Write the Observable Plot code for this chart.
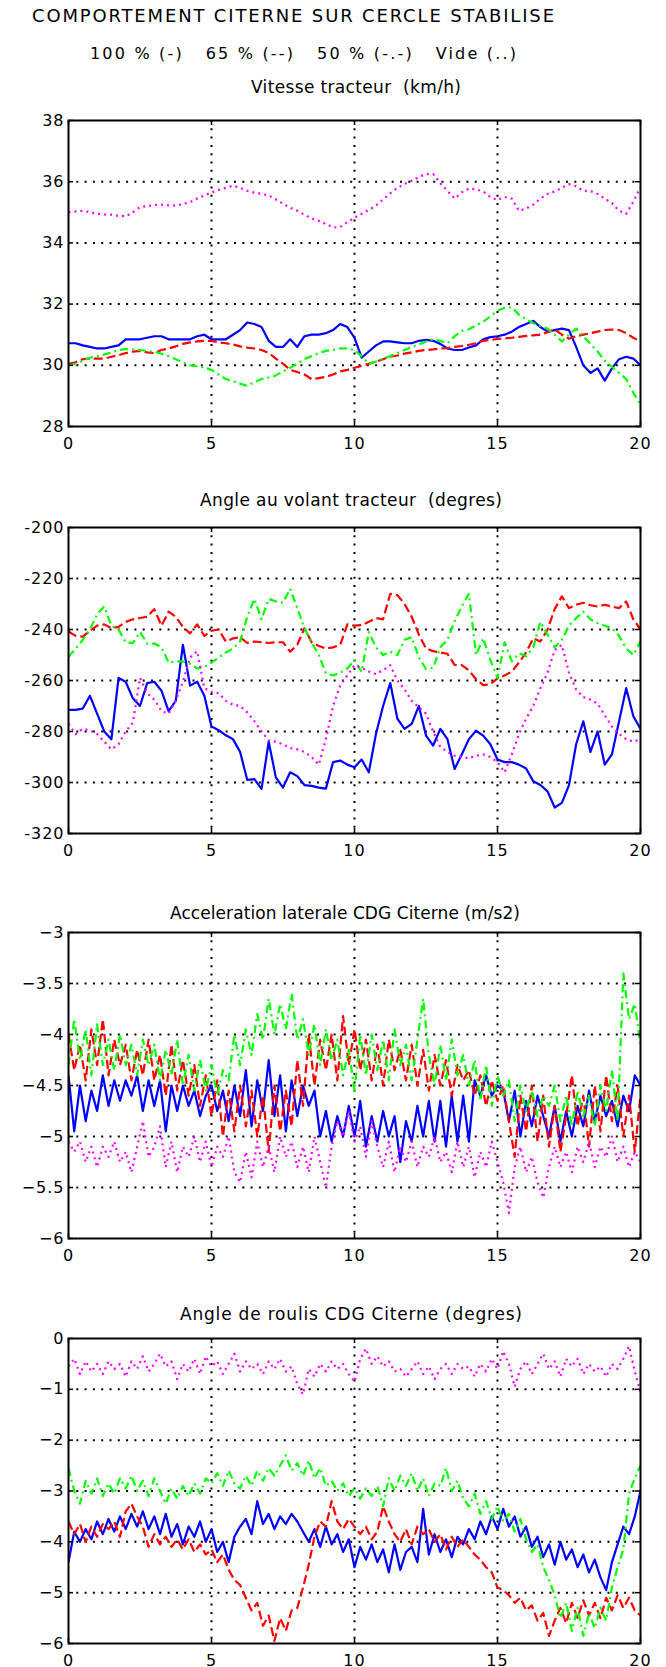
<!DOCTYPE html>
<html><head><meta charset="utf-8">
<script src="https://cdn.jsdelivr.net/npm/d3@7"></script>
<script src="https://cdn.jsdelivr.net/npm/@observablehq/plot@0.6"></script>
<style>
html,body{margin:0;padding:0;background:#fff;}
#page{position:relative;width:666px;height:1667px;overflow:hidden;background:#fff;font-family:"DejaVu Sans",sans-serif;color:#000;}
.t{position:absolute;white-space:pre;line-height:1;}
.panel{position:absolute;left:0;}
</style></head>
<body><div id="page"></div>
<script>
// ---------------- texts ----------------
const mainTitle = "COMPORTEMENT CITERNE SUR CERCLE STABILISE";
const legendText = "100 % (-)   65 % (--)   50 % (-.-)   Vide (..)";
const panelTitles = [
  "Vitesse tracteur  (km/h)",
  "Angle au volant tracteur  (degres)",
  "Acceleration laterale CDG Citerne (m/s2)",
  "Angle de roulis CDG Citerne (degres)"
];
const seriesNames = ["100 %", "65 %", "50 %", "Vide"];
const timeDomain = [0, 20];
const timeTicks = [0, 5, 10, 15, 20];

// ---------------- y axes ----------------
const vitesseTicks = [28, 30, 32, 34, 36, 38];
const volantTicks = [-320, -300, -280, -260, -240, -220, -200];
const accelTicks = [-6, -5.5, -5, -4.5, -4, -3.5, -3];
const roulisTicks = [-6, -5, -4, -3, -2, -1, 0];

// ---------------- Panel 1 : Vitesse tracteur (km/h), samples every 0.25 s ----------------
const vitesse100 = [
30.72,30.72,30.65,30.6, 30.55,30.55,30.6,30.65, 30.85,30.85,30.85,30.9, 30.95,30.95,30.85,30.85,
30.85,30.85,30.95,31.0, 30.85,30.85,30.85,31.0, 31.15,31.4,31.35,31.25, 30.8,30.6,30.6,30.85,
30.6,30.95,31.0,31.0, 31.05,31.15,31.35,31.25, 30.9,30.25,30.45,30.65, 30.78,30.78,30.75,30.72,
30.72,30.8,30.83,30.8, 30.7,30.55,30.5,30.5, 30.58,30.65,30.85,30.92, 30.95,31.0,31.1,31.25,
31.35,31.45,31.25,31.1, 31.15,31.2,31.15,30.6, 30.0,29.75,29.9,29.5, 29.9,30.2,30.28,30.22, 30.0];
const vitesse65 = [
30.05,30.1,30.2,30.22, 30.22,30.22,30.28,30.33, 30.4,30.45,30.47,30.42, 30.4,30.5,30.55,30.62,
30.7,30.75,30.78,30.8, 30.8,30.75,30.72,30.68, 30.62,30.58,30.55,30.5, 30.4,30.22,30.05,29.85,
29.78,29.7,29.55,29.58, 29.62,29.7,29.8,29.85, 29.92,29.98,30.05,30.12, 30.2,30.28,30.32,30.38,
30.42,30.47,30.5,30.52, 30.55,30.56,30.6,30.63, 30.67,30.72,30.8,30.83, 30.86,30.88,30.9,30.93,
30.96,30.98,31.0,31.08, 31.17,31.0,30.87,30.95, 31.0,31.05,31.1,31.15, 31.17,31.15,31.05,30.9, 30.78];
const vitesse50 = [
30.0,30.05,30.15,30.25, 30.3,30.35,30.42,30.5, 30.53,30.52,30.5,30.47, 30.44,30.38,30.3,30.2,
30.1,30.0,29.97,29.93, 29.85,29.7,29.55,29.48, 29.4,29.33,29.45,29.55, 29.6,29.67,29.8,29.92,
30.05,30.2,30.3,30.4, 30.47,30.5,30.55,30.55, 30.5,30.3,30.05,30.12, 30.22,30.3,30.4,30.5,
30.6,30.68,30.78,30.85, 30.8,30.72,30.95,31.12, 31.18,31.3,31.42,31.6, 31.78,31.88,31.9,31.65,
31.5,31.38,31.28,31.2, 31.0,30.78,31.0,31.2, 30.95,30.7,30.45,30.15, 29.95,29.75,29.55,29.1, 28.72];
const vitesseVide = [
35.0,35.03,35.05,35.0, 34.95,34.93,34.92,34.88, 34.87,35.0,35.17,35.2, 35.24,35.25,35.23,35.22,
35.27,35.33,35.45,35.55, 35.65,35.73,35.8,35.87, 35.8,35.7,35.64,35.6, 35.55,35.42,35.28,35.15,
35.05,34.92,34.8,34.72, 34.62,34.5,34.52,34.68, 34.82,34.95,35.08,35.22, 35.42,35.62,35.8,35.93,
36.03,36.15,36.25,36.25, 35.95,35.7,35.45,35.65, 35.78,35.75,35.68,35.5, 35.4,35.5,35.45,35.05,
35.12,35.25,35.45,35.6, 35.68,35.8,35.92,35.85, 35.7,35.69,35.6,35.45, 35.3,35.05,34.95,35.35, 35.83];

// ---------------- Panel 2 : Angle au volant tracteur (degres), every 0.25 s ----------------
const volant100 = [
-271.5,-271.5,-271,-266, -273,-280,-283,-259, -260.5,-267,-270,-261, -260.5,-264,-272,-268,
-246,-262,-260.5,-266, -278,-279.5,-281.5,-283, -288,-299,-298.7,-302.5, -284,-298,-302,-296,
-297.5,-301,-301.3,-302, -302.4,-292,-291.4,-293, -294,-291,-296,-281, -270,-261,-275,-279,
-277,-270,-281.6,-285.5, -279,-283,-294.7,-289, -283,-279.7,-281.6,-285, -291,-292,-292,-293,
-294.5,-299.5,-301,-303.5, -309.8,-308,-301,-285, -276,-288,-280,-293, -289,-276,-263,-274, -279];
const volant65 = [
-240.8,-242.5,-242.8,-240.5, -238.5,-238,-239.5,-239, -237,-236,-235.5,-235, -232,-238.5,-233,-235,
-239,-241.5,-238,-242.5, -240.5,-240,-244.7,-243.5, -243,-245.3,-244.7,-245, -245.3,-245,-245,-248.7,
-246,-239.5,-245,-246.5, -247.4,-247,-246,-238, -238.5,-238.3,-237,-235.5, -236,-226,-226.5,-230,
-235,-242,-247.4,-248.5, -249,-249.5,-253.9,-254, -256,-259.5,-261.8,-261.5, -259.2,-258,-256.5,-253,
-249,-243.5,-244.7,-240, -232,-227,-231.6,-230.3, -229.5,-230.5,-231,-230.3, -231,-231.6,-229,-236, -240];
const volant50 = [
-250.7,-247.5,-244,-240, -234,-231,-238.5,-240, -245,-245.3,-241,-245.5, -245.5,-247,-253,-252.5,
-252.5,-253.5,-255.3,-254.7, -253,-251,-249,-247.5, -244.7,-235,-228,-236, -228,-229,-229.5,-224,
-231.6,-239.5,-245,-250, -257.2,-258,-257,-255.3, -252,-256.6,-241,-247, -250,-248.7,-250,-244,
-243,-251,-255.5,-255, -247,-244,-236.8,-231, -226,-250,-243.4,-252, -259,-245,-252.5,-249.3,
-250.5,-247,-237,-242, -247,-244,-238.5,-235.5, -233,-236,-237.5,-238.5, -239.5,-242.5,-247.4,-250, -244.7];
const volantVide = [
-277,-281,-279,-279.5, -281,-284,-287,-285, -280,-276.5,-259,-265, -267.5,-272,-273,-268,
-260.5,-251,-248.5,-263, -264.5,-265,-268,-269.5, -270,-272.5,-276,-280, -283.5,-284,-285,-286.5,
-287,-288,-290,-293, -283,-270,-262,-258, -254,-255,-256.5,-257.5, -256,-254,-260,-263.5,
-268,-270.5,-273,-280, -286,-288,-289.5,-290, -290.5,-289.5,-289,-290, -292,-296,-289,-281,
-275,-270,-263,-257, -248,-246,-257,-263.5, -266.5,-267.5,-269,-273.7, -278,-281,-283,-284, -283];

// ---------------- Panel 3 : Acceleration laterale (m/s2), every 0.2 s ----------------
const accel100 = [
-4.4,-4.95,-4.5,-4.85,-4.55, -4.75,-4.4,-4.7,-4.45,-4.65, -4.45,-4.6,-4.4,-4.75,-4.45, -4.7,-4.45,-4.95,-4.5,-4.75,
-4.5,-4.7,-4.55,-4.8,-4.6, -4.5,-4.75,-4.55,-4.85,-4.5, -4.8,-4.35,-4.9,-4.45,-4.75, -4.25,-4.8,-4.4,-4.95,-4.45,
-4.8,-4.5,-4.7,-4.55,-5.0, -4.75,-5.05,-4.8,-5.0,-4.7, -5.0,-4.65,-5.1,-4.8,-5.05, -4.75,-5.0,-4.8,-5.25,-4.85,
-5.05,-4.7,-5.0,-4.65,-5.05, -4.65,-5.1,-4.6,-5.05,-4.6, -5.05,-4.45,-4.6,-4.4,-4.6, -4.5,-4.55,-4.85,-4.55,-5.0,
-4.65,-4.9,-4.6,-4.8,-5.0, -4.7,-5.05,-4.75,-5.0,-4.7, -4.9,-4.55,-4.85,-4.6,-4.8, -4.65,-4.9,-4.6,-4.75,-4.4, -4.5];
const accel65 = [
-4.0,-4.35,-4.1,-4.45,-3.95, -4.3,-3.85,-4.4,-4.05,-4.3, -4.1,-4.45,-4.15,-4.4,-4.05, -4.45,-4.2,-4.6,-4.1,-4.55,
-4.25,-4.6,-4.3,-4.7,-4.4, -4.8,-4.45,-5.0,-4.55,-4.95, -4.5,-4.9,-4.55,-5.0,-4.6, -5.15,-4.5,-4.95,-4.55,-4.9,
-4.25,-4.7,-4.0,-4.5,-4.05, -4.35,-4.0,-4.45,-3.82,-4.3, -3.95,-4.35,-4.05,-4.45,-4.1, -4.5,-4.05,-4.35,-4.15,-4.45,
-4.1,-4.5,-4.15,-4.55,-4.2, -4.5,-4.25,-4.6,-4.3,-4.45, -4.35,-4.6,-4.4,-4.7,-4.45, -4.65,-4.5,-4.85,-5.2,-4.6,
-4.95,-4.5,-5.05,-4.6,-5.1, -4.7,-5.15,-4.8,-4.4,-4.9, -4.6,-5.1,-4.5,-4.95,-4.4, -4.85,-4.5,-5.0,-4.6,-5.15, -4.6];
const accel50 = [
-4.3,-3.85,-4.25,-3.95,-4.4, -3.9,-4.3,-4.05,-4.35,-4.0, -4.3,-4.1,-4.4,-4.05,-4.3, -4.1,-4.45,-4.15,-4.4,-4.05,
-4.5,-4.2,-4.55,-4.25,-4.55, -4.3,-4.6,-4.35,-4.45,-4.0, -4.3,-3.95,-4.2,-3.8,-4.05, -3.65,-4.0,-3.7,-3.95,-3.6,
-4.05,-3.85,-4.2,-3.9,-4.3, -3.95,-4.25,-4.05,-4.4,-4.15, -4.55,-4.0,-4.4,-4.0,-4.35, -4.05,-4.45,-3.95,-4.3,-4.1,
-4.45,-4.05,-3.65,-4.2,-4.5, -4.1,-4.45,-4.05,-4.4,-4.2, -4.5,-4.25,-4.65,-4.3,-4.7, -4.4,-4.6,-4.45,-4.85,-4.5,
-4.75,-4.55,-4.8,-4.6,-4.7, -4.5,-4.85,-4.6,-4.9,-4.55, -4.8,-4.6,-4.9,-4.5,-4.75, -4.35,-4.85,-3.4,-3.85,-3.7, -4.1];
const accelVide = [
-5.05,-5.15,-5.05,-5.25,-5.1, -5.3,-5.1,-5.2,-5.05,-5.25, -5.15,-5.35,-5.1,-4.85,-5.2, -5.1,-4.9,-5.3,-5.05,-5.35,
-5.1,-5.2,-5.0,-5.25,-5.05, -5.3,-5.1,-5.2,-5.0,-5.35, -5.45,-5.15,-5.4,-5.05,-5.3, -5.1,-5.35,-5.0,-5.2,-5.05,
-5.3,-5.1,-5.35,-5.0,-5.25, -5.5,-5.1,-4.85,-5.0,-4.75, -5.05,-4.9,-5.2,-4.85,-5.1, -5.3,-5.05,-5.35,-5.1,-5.25,
-5.05,-5.3,-5.1,-5.2,-5.0, -5.25,-5.15,-5.35,-5.05,-5.3, -5.1,-5.4,-5.15,-5.3,-5.05, -5.25,-5.45,-5.75,-5.3,-5.1,
-5.35,-5.2,-5.45,-5.6,-5.3, -5.1,-5.3,-5.15,-5.35,-5.1, -5.25,-5.05,-5.3,-5.1,-5.2, -5.0,-5.25,-5.1,-5.3,-5.15, -5.25];

// ---------------- Panel 4 : Angle de roulis (degres), every 0.2 s ----------------
const roulis100 = [
-4.4,-3.8,-4.0,-3.75,-3.95, -3.6,-3.85,-3.55,-3.8,-3.5, -3.75,-3.45,-3.7,-3.4,-3.75, -3.5,-3.85,-3.45,-3.9,-3.65,
-4.05,-3.7,-3.9,-3.6,-4.0, -3.75,-4.2,-4.0,-4.4,-3.9, -3.7,-3.55,-3.85,-3.2,-3.65, -3.45,-3.75,-3.5,-3.65,-3.45,
-3.6,-3.8,-4.0,-3.75,-4.1, -3.7,-4.05,-3.85,-4.2,-3.95, -4.5,-4.1,-4.35,-4.05,-4.4, -4.15,-4.6,-4.05,-4.55,-4.2,
-4.1,-4.4,-3.35,-4.25,-3.85, -4.2,-3.95,-4.3,-3.9,-4.05, -3.75,-3.95,-3.6,-3.85,-3.5, -3.75,-3.35,-3.7,-3.5,-3.9,
-3.7,-4.1,-3.9,-4.3,-4.05, -4.45,-4.0,-4.35,-4.15,-4.5, -4.25,-4.6,-4.35,-4.7,-4.95, -4.4,-4.05,-3.7,-3.85,-3.5, -3.0];
const roulis65 = [
-3.6,-3.85,-3.65,-4.0,-3.7, -3.9,-3.65,-3.75,-3.6,-3.9, -3.4,-3.25,-3.5,-3.7,-4.1, -3.85,-4.05,-3.9,-4.1,-3.95,
-4.15,-3.95,-4.2,-4.05,-4.25, -4.15,-4.4,-4.25,-4.55,-4.75, -4.85,-5.1,-5.35,-5.2,-5.65, -5.45,-5.95,-5.5,-5.75,-5.35,
-5.3,-4.9,-4.45,-3.9,-3.6, -3.7,-3.2,-3.6,-3.75,-3.55, -3.7,-3.85,-3.7,-3.95,-3.8, -3.3,-3.6,-3.85,-4.0,-3.75,
-4.05,-3.7,-3.85,-3.75,-4.0, -3.85,-4.15,-3.9,-4.1,-3.95, -4.1,-4.25,-4.35,-4.5,-4.6, -4.9,-4.95,-5.05,-5.2,-5.1,
-5.35,-5.25,-5.55,-5.4,-5.85, -5.55,-5.3,-5.6,-5.2,-5.5, -5.15,-5.45,-5.2,-5.5,-5.1, -5.35,-5.05,-5.3,-5.1,-5.35, -5.45];
const roulis50 = [
-2.55,-3.0,-3.25,-2.8,-3.05, -2.75,-3.1,-2.85,-3.05,-2.75, -2.95,-2.7,-3.0,-2.8,-3.1, -2.75,-3.0,-3.25,-2.95,-3.15,
-2.9,-3.1,-2.85,-3.05,-2.75, -2.85,-2.65,-2.9,-2.6,-2.85, -2.95,-2.7,-2.9,-2.6,-2.8, -2.55,-2.7,-2.5,-2.3,-2.6,
-2.45,-2.7,-2.4,-2.75,-2.55, -2.9,-2.8,-3.0,-2.85,-3.1, -2.95,-3.15,-2.95,-3.1,-2.9, -3.3,-2.75,-3.0,-2.7,-2.9,
-2.65,-3.0,-2.75,-3.1,-2.85, -2.9,-2.55,-3.0,-2.8,-3.15, -3.3,-3.05,-3.45,-3.2,-3.55, -3.3,-3.6,-3.45,-3.8,-3.55,
-3.95,-4.2,-4.05,-4.5,-4.75, -5.05,-5.5,-5.2,-5.75,-5.3, -5.85,-5.4,-5.7,-5.3,-5.55, -4.9,-4.5,-4.15,-3.05,-2.75, -2.5];
const roulisVide = [
-0.55,-0.4,-0.7,-0.45,-0.65, -0.5,-0.7,-0.45,-0.6,-0.5, -0.75,-0.45,-0.6,-0.35,-0.65, -0.5,-0.3,-0.55,-0.45,-0.8,
-0.5,-0.65,-0.4,-0.7,-0.35, -0.55,-0.45,-0.7,-0.5,-0.3, -0.65,-0.45,-0.6,-0.5,-0.7, -0.45,-0.6,-0.4,-0.65,-0.55,
-0.9,-1.1,-0.6,-0.75,-0.5, -0.65,-0.45,-0.6,-0.5,-0.7, -0.85,-0.4,-0.2,-0.5,-0.35, -0.55,-0.45,-0.65,-0.6,-0.75,
-0.6,-0.45,-0.7,-0.55,-0.8, -0.6,-0.5,-0.7,-0.5,-0.6, -0.55,-0.75,-0.5,-0.65,-0.4, -0.6,-0.25,-0.5,-0.95,-0.6,
-0.45,-0.7,-0.5,-0.3,-0.6, -0.45,-0.75,-0.4,-0.55,-0.4, -0.7,-0.5,-0.65,-0.55,-0.75, -0.5,-0.6,-0.4,-0.15,-0.65, -1.05];

// ---------------- styling (not data) ----------------
const seriesColors = ["#0000ff", "#ff0000", "#00ff00", "#ff00ff"];
const seriesDash = [null, "9,4", "8,4,2,4", "2,4"];

const panels = [
  {title: panelTitles[0], series: [vitesse100, vitesse65, vitesse50, vitesseVide], yTicks: vitesseTicks, fmt: d => String(d)},
  {title: panelTitles[1], series: [volant100, volant65, volant50, volantVide], yTicks: volantTicks, fmt: d => String(d)},
  {title: panelTitles[2], series: [accel100, accel65, accel50, accelVide], yTicks: accelTicks, fmt: d => (d < 0 ? "\u2212" : "") + String(Math.abs(d))},
  {title: panelTitles[3], series: [roulis100, roulis65, roulis50, roulisVide], yTicks: roulisTicks, fmt: d => (d < 0 ? "\u2212" : "") + String(Math.abs(d))}
];

// layout
const frameTops = [120, 527, 932, 1338];
const frameHs = [306, 306, 306, 305];
const titleY = [87, 500, 913, 1314];
const titleBox = [[251, 210], [200, 302], [170, 350], [180, 342]];
const ML = 68, MR = 26, MT = 12, MB = 34, W = 666;

const page = document.getElementById("page");

function placeText(str, left, centerY, width, size) {
  const d = document.createElement("div");
  d.className = "t";
  d.style.fontSize = size + "px";
  d.textContent = str;
  page.appendChild(d);
  const r = d.getBoundingClientRect();
  const n = [...str].length;
  const ls = n > 1 ? (width - r.width) / (n - 1) : 0;
  d.style.letterSpacing = ls + "px";
  d.style.left = left + "px";
  d.style.top = (centerY - r.height / 2) + "px";
}

placeText(mainTitle, 32, 16, 522, 18);
placeText(legendText, 90, 54, 426, 16);

panels.forEach((p, idx) => {
  const frameH = frameHs[idx];
  const rows = [];
  p.series.forEach((vals, k) => {
    const n = vals.length;
    vals.forEach((v, i) => rows.push({t: timeDomain[0] + i * (timeDomain[1] - timeDomain[0]) / (n - 1), v, s: seriesNames[k]}));
  });
  const yDomain = [p.yTicks[0], p.yTicks[p.yTicks.length - 1]];
  const innerY = p.yTicks.slice(1, -1);
  const innerX = timeTicks.slice(1, -1);
  const gridStyle = {stroke: "#000", strokeOpacity: 1, strokeWidth: 2, strokeDasharray: "2,6.3"};
  const chart = Plot.plot({
    width: W, height: MT + frameH + MB,
    marginTop: MT, marginBottom: MB, marginLeft: ML, marginRight: MR,
    style: {fontFamily: '"DejaVu Sans", sans-serif', fontSize: "16px", background: "transparent", color: "#000", letterSpacing: "1px", overflow: "visible"},
    x: {domain: timeDomain, label: null},
    y: {domain: yDomain, label: null},
    marks: [
      Plot.gridX(innerX, gridStyle),
      Plot.gridY(innerY, gridStyle),
      ...seriesNames.map((name, k) => Plot.line(rows.filter(r => r.s === name), {
        x: "t", y: "v", stroke: seriesColors[k], strokeWidth: 2.2,
        strokeDasharray: seriesDash[k] || undefined, strokeLinecap: "butt", strokeLinejoin: "round", clip: true
      })),
      Plot.ruleX(timeTicks, {x: d => d, insetTop: frameH - 5, stroke: "#000", strokeWidth: 1.5}),
      Plot.ruleX(timeTicks, {x: d => d, insetBottom: frameH - 5, stroke: "#000", strokeWidth: 1.5}),
      Plot.ruleY(p.yTicks, {y: d => d, insetRight: (W - ML - MR) - 5, stroke: "#000", strokeWidth: 1.5}),
      Plot.ruleY(p.yTicks, {y: d => d, insetLeft: (W - ML - MR) - 5, stroke: "#000", strokeWidth: 1.5}),
      Plot.frame({stroke: "#000", strokeWidth: 2}),
      Plot.axisX(timeTicks, {tickSize: 0, tickPadding: 11, label: null}),
      Plot.axisY(p.yTicks, {tickSize: 0, tickPadding: 4, tickFormat: p.fmt, label: null})
    ]
  });
  const holder = document.createElement("div");
  holder.className = "panel";
  holder.style.top = (frameTops[idx] - MT) + "px";
  holder.appendChild(chart);
  page.appendChild(holder);
  placeText(p.title, titleBox[idx][0], titleY[idx], titleBox[idx][1], 17);
});
</script>
</body></html>
